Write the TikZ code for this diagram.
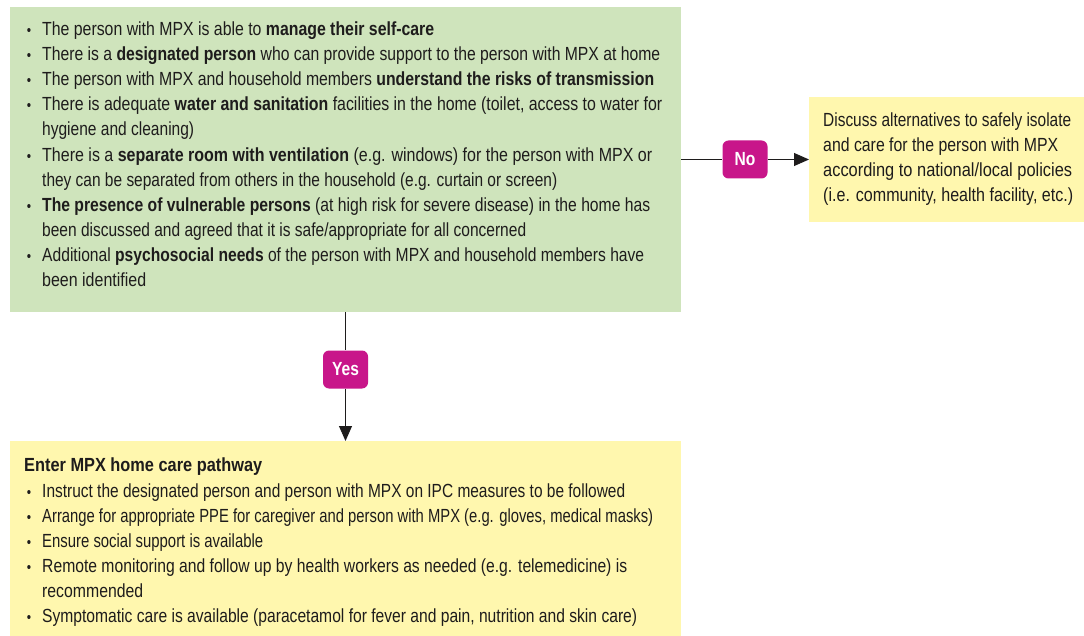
\documentclass[tikz,border=0pt]{standalone}
\usepackage{fontspec}
\usepackage{graphicx}
\setmainfont{Liberation Sans}[FakeStretch=0.82]
\usetikzlibrary{arrows.meta}
\definecolor{boxgreen}{RGB}{207,228,188}
\definecolor{boxyellow}{RGB}{255,247,174}
\definecolor{badgec}{RGB}{200,22,138}
\definecolor{ink}{RGB}{30,28,28}
\newsavebox\myfitbox
\newcommand\fitw[2]{\sbox\myfitbox{#2}\resizebox{#1pt}{\height}{\usebox\myfitbox}}
\tikzset{
  panel/.style={draw=none, inner sep=0, anchor=north west},
  txt/.style={inner sep=0, anchor=base west, text=ink, font=\fontsize{19}{25}\selectfont},
  dot/.style={inner sep=0, anchor=base, text=ink, font=\fontsize{15}{25}\selectfont},
  badge/.style={fill=badgec, rounded corners=6pt, minimum width=45pt, minimum height=38pt, inner sep=0, text=white, font=\fontsize{19}{22}\selectfont\bfseries},
  conn/.style={draw=ink, line width=0.9pt},
  arr/.style={conn, -{Triangle[length=15pt,width=13pt]}}
}
\begin{document}
\begin{tikzpicture}[x=1pt,y=-1pt]
\useasboundingbox (0,0) rectangle (1084,636);
% panels
\node[panel, fill=boxgreen, minimum width=671pt, minimum height=305pt] (cond) at (10,7) {};
\node[panel, fill=boxyellow, minimum width=275pt, minimum height=125pt] (alt) at (809,97) {};
\node[panel, fill=boxyellow, minimum width=671pt, minimum height=195pt] (care) at (10,441) {};
% badges
\node[badge] (no) at (745,159.5) {No};
\node[badge] (yes) at (345.5,369.5) {Yes};
% connectors
\draw[conn] (cond.east |- no) -- (no);
\draw[arr] (no) -- (alt.west |- no);
\draw[conn] (cond.south -| yes) -- (yes);
\draw[arr] (yes) -- (care.north -| yes);
% green text
\node[dot] (gb1) at (29,36) {•};
\node[txt] (g1) at (42,36) {\fitw{392}{The person with MPX is able to \textbf{manage their self-care}}};
\node[dot] (gb2) at (29,61) {•};
\node[txt] (g2) at (42,61) {\fitw{618}{There is a \textbf{designated person} who can provide support to the person with MPX at home}};
\node[dot] (gb3) at (29,86) {•};
\node[txt] (g3) at (42,86) {\fitw{612}{The person with MPX and household members \textbf{understand the risks of transmission}}};
\node[dot] (gb4) at (29,111) {•};
\node[txt] (g4) at (42,111) {\fitw{620}{There is adequate \textbf{water and sanitation} facilities in the home (toilet, access to water for}};
\node[txt] (g4b) at (42,136) {\fitw{152}{hygiene and cleaning)}};
\node[dot] (gb5) at (29,162) {•};
\node[txt] (g5) at (42,162) {\fitw{610}{There is a \textbf{separate room with ventilation} (e.g. windows) for the person with MPX or}};
\node[txt] (g5b) at (42,187) {\fitw{515}{they can be separated from others in the household (e.g. curtain or screen)}};
\node[dot] (gb6) at (29,212) {•};
\node[txt] (g6) at (42,212) {\fitw{608}{\textbf{The presence of vulnerable persons} (at high risk for severe disease) in the home has}};
\node[txt] (g6b) at (42,237) {\fitw{484}{been discussed and agreed that it is safe/appropriate for all concerned}};
\node[dot] (gb7) at (29,262) {•};
\node[txt] (g7) at (42,262) {\fitw{602}{Additional \textbf{psychosocial needs} of the person with MPX and household members have}};
\node[txt] (g7b) at (42,287) {\fitw{104}{been identified}};
% right text
\node[txt] (a1) at (823,127) {\fitw{248}{Discuss alternatives to safely isolate}};
\node[txt] (a2) at (823,152) {\fitw{235}{and care for the person with MPX}};
\node[txt] (a3) at (823,177) {\fitw{249}{according to national/local policies}};
\node[txt] (a4) at (823,202) {\fitw{250}{(i.e. community, health facility, etc.)}};
% bottom text
\node[txt] (c0) at (24,471) {\fitw{238}{\textbf{Enter MPX home care pathway}}};
\node[dot] (cb1) at (29,497) {•};
\node[txt] (c1) at (42,497) {\fitw{583}{Instruct the designated person and person with MPX on IPC measures to be followed}};
\node[dot] (cb2) at (29,522) {•};
\node[txt] (c2) at (42,522) {\fitw{611}{Arrange for appropriate PPE for caregiver and person with MPX (e.g. gloves, medical masks)}};
\node[dot] (cb3) at (29,547) {•};
\node[txt] (c3) at (42,547) {\fitw{221}{Ensure social support is available}};
\node[dot] (cb4) at (29,572) {•};
\node[txt] (c4) at (42,572) {\fitw{585}{Remote monitoring and follow up by health workers as needed (e.g. telemedicine) is}};
\node[txt] (c4b) at (42,597) {\fitw{101}{recommended}};
\node[dot] (cb5) at (29,622) {•};
\node[txt] (c5) at (42,622) {\fitw{595}{Symptomatic care is available (paracetamol for fever and pain, nutrition and skin care)}};
\end{tikzpicture}
\end{document}
